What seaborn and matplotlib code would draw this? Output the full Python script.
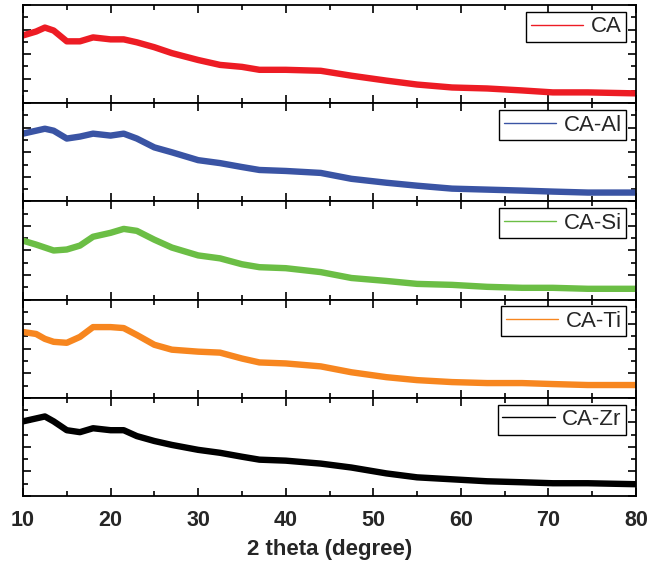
import matplotlib
matplotlib.use("Agg")
import matplotlib.pyplot as plt
from matplotlib.lines import Line2D
from matplotlib.ticker import MultipleLocator
import seaborn as sns
import pandas as pd

two_theta = [10, 11.5, 12.5, 13.5, 15, 16.5, 18, 20, 21.5, 23, 25, 27, 30, 32.5, 35,
             37, 40, 44, 47.5, 51.5, 55, 59, 63, 67, 70.5, 74.5, 80]

ca = [69, 73, 77, 74, 63, 63, 67, 65, 65, 62, 57, 51, 44, 39, 37,
      34, 34, 33, 28, 23, 19, 16, 15, 13, 11, 11, 10]
ca_al = [69, 72, 74, 72, 64, 66, 69, 67, 69, 64, 55, 50, 42, 39, 35,
         32, 31, 29, 23, 19, 16, 13, 12, 11, 10, 9, 9]
ca_si = [60, 56, 53, 50, 51, 55, 64, 68, 72, 70, 61, 53, 45, 42, 36,
         33, 32, 28, 22, 19, 16, 15, 13, 12, 12, 11, 11]
ca_ti = [67, 65, 60, 57, 56, 62, 72, 72, 71, 64, 54, 49, 47, 46, 40,
         36, 35, 32, 26, 21, 18, 16, 15, 15, 14, 13, 13]
ca_zr = [76, 79, 81, 76, 67, 65, 69, 67, 67, 61, 56, 52, 47, 44, 40,
         37, 36, 33, 29, 23, 19, 17, 15, 14, 13, 13, 12]

labels = ["CA", "CA-Al", "CA-Si", "CA-Ti", "CA-Zr"]
series = [ca, ca_al, ca_si, ca_ti, ca_zr]
colors = ["#ED1C24", "#3A54A4", "#6BBE45", "#F7861F", "#000000"]

sns.set_theme(style="ticks")
plt.rcParams["font.family"] = ["Liberation Sans", "DejaVu Sans"]

fig = plt.figure(figsize=(6.52, 5.64), dpi=100)
left, right = 23 / 652, 636 / 652
top_px, bot_px = 5, 496
ph = (bot_px - top_px) / 5

axes = []
for i, (lab, vals, col) in enumerate(zip(labels, series, colors)):
    y0 = bot_px - (5 - i) * ph  # top pixel
    ax = fig.add_axes([left, 1 - (y0 + ph) / 564, right - left, ph / 564])
    df = pd.DataFrame({"x": two_theta, "y": vals})
    sns.lineplot(data=df, x="x", y="y", ax=ax, color=col, linewidth=4.6,
                 legend=False, solid_joinstyle="round")
    ax.set_xlim(10, 80)
    ax.set_ylim(0, 100)
    ax.xaxis.set_major_locator(MultipleLocator(10))
    ax.xaxis.set_minor_locator(MultipleLocator(5))
    ax.yaxis.set_major_locator(MultipleLocator(25))
    ax.yaxis.set_minor_locator(MultipleLocator(12.5))
    ax.tick_params(which="both", direction="in", top=True, right=True,
                   labelleft=False, width=1.2, color="black")
    ax.tick_params(which="major", length=6)
    ax.tick_params(which="minor", length=3.5)
    ax.set_ylabel("")
    ax.set_xlabel("")
    for s in ax.spines.values():
        s.set_linewidth(1.3)
        s.set_color("black")
    if i < 4:
        ax.tick_params(labelbottom=False)
    else:
        ax.tick_params(labelbottom=True, labelsize=15.5, pad=10)
        for t in ax.get_xticklabels():
            t.set_fontweight("bold")
        ax.set_xlabel("2 theta (degree)", fontsize=16, fontweight="bold", labelpad=6)
    h = Line2D([], [], color=col, linewidth=1.0)
    leg = ax.legend([h], [lab], loc="upper right", bbox_to_anchor=(0.984, 0.93),
                    borderaxespad=0, fontsize=16, frameon=True, fancybox=False,
                    framealpha=1, edgecolor="black", handlelength=2.35,
                    handletextpad=0.35, borderpad=0.2)
    leg.get_frame().set_linewidth(1.0)
    axes.append(ax)

fig.savefig("out.png", dpi=100)
